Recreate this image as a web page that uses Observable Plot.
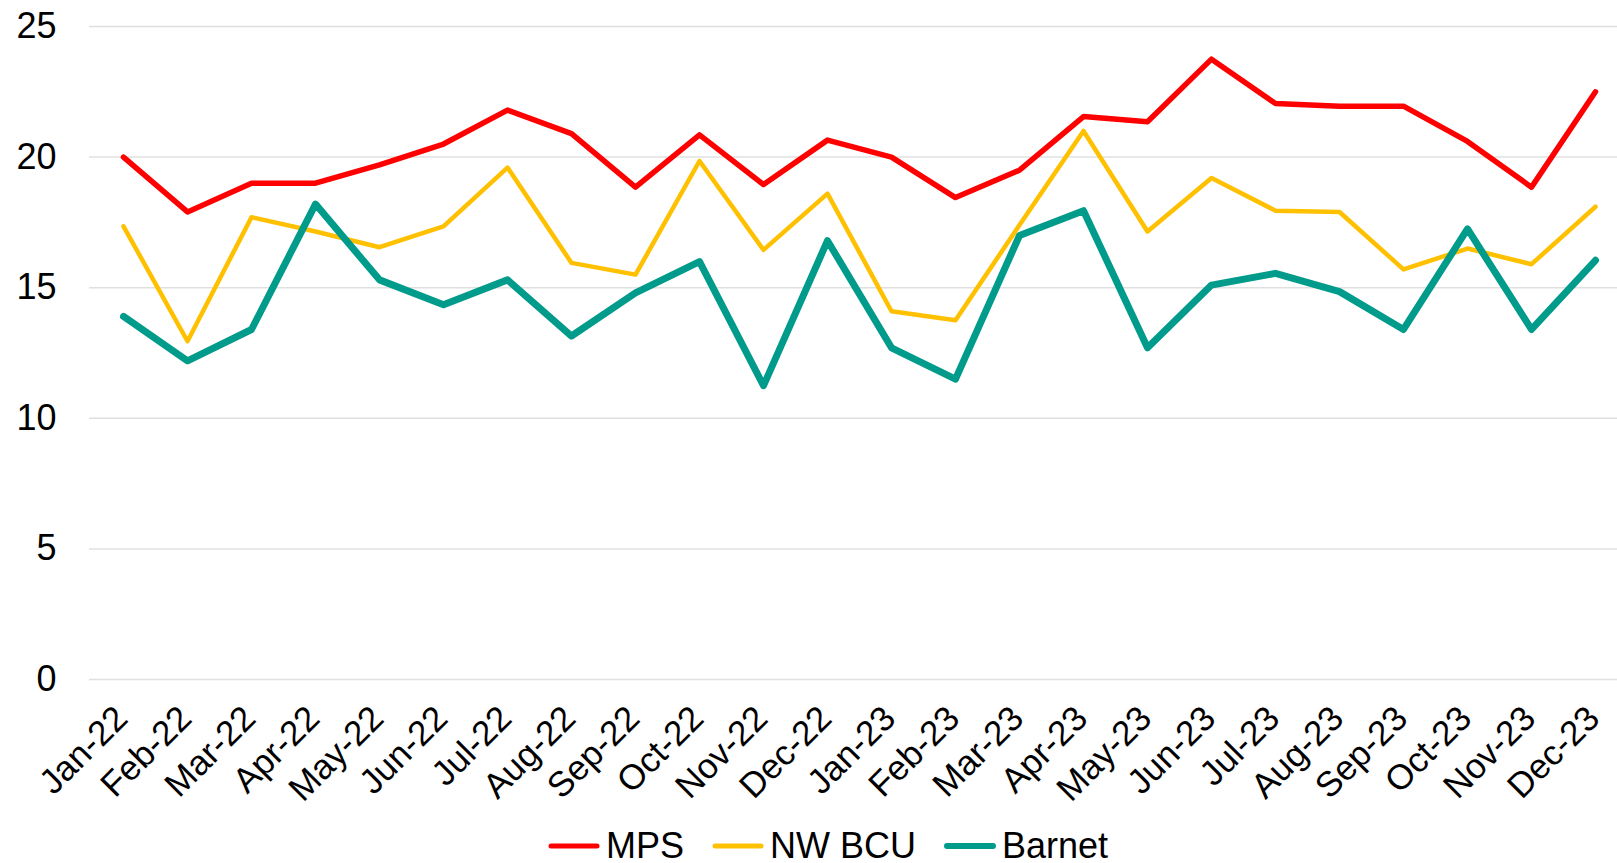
<!DOCTYPE html>
<html>
<head>
<meta charset="utf-8">
<script src="https://cdn.jsdelivr.net/npm/d3@7"></script>
<script src="https://cdn.jsdelivr.net/npm/@observablehq/plot@0.6"></script>
<style>
  html, body { margin: 0; padding: 0; background: #fff; }
  body { width: 1617px; height: 863px; position: relative; overflow: hidden; font-family: "Liberation Sans", Arial, sans-serif; }
  #legend { position: absolute; left: 548px; top: 828px; display: flex; align-items: center; font-size: 36px; line-height: 36px; color: #000; }
  .item { display: flex; align-items: center; margin-right: 28px; }
  .item svg { margin-right: 6px; }
</style>
</head>
<body>
<div id="chart"></div>
<div id="legend"></div>
<script>
const months = ["Jan-22","Feb-22","Mar-22","Apr-22","May-22","Jun-22","Jul-22","Aug-22","Sep-22","Oct-22","Nov-22","Dec-22",
                "Jan-23","Feb-23","Mar-23","Apr-23","May-23","Jun-23","Jul-23","Aug-23","Sep-23","Oct-23","Nov-23","Dec-23"];
const mps = [20.0, 17.9, 19.0, 19.0, 19.7, 20.5, 21.8, 20.9, 18.85, 20.85, 18.95, 20.65,
             20.0, 18.45, 19.5, 21.55, 21.35, 23.75, 22.05, 21.95, 21.95, 20.6, 18.85, 22.5];
const nwBcu = [17.35, 12.95, 17.7, 17.15, 16.55, 17.35, 19.6, 15.95, 15.5, 19.85, 16.45, 18.6,
               14.1, 13.75, 17.4, 21.0, 17.15, 19.2, 17.95, 17.9, 15.7, 16.5, 15.9, 18.1];
const barnet = [13.9, 12.2, 13.4, 18.2, 15.3, 14.35, 15.3, 13.15, 14.8, 16.0, 11.25, 16.8,
                12.7, 11.5, 17.0, 17.95, 12.7, 15.1, 15.55, 14.85, 13.4, 17.25, 13.4, 16.05];
const yTicks = [0, 5, 10, 15, 20, 25];
const seriesNames = ["MPS", "NW BCU", "Barnet"];
const seriesColors = ["#ff0000", "#ffc000", "#009b8a"];
const seriesWidths = [5.5, 4.5, 7];

const seriesValues = [mps, nwBcu, barnet];
const rows = seriesNames.flatMap((name, si) => months.map((m, i) => ({series: name, month: m, value: seriesValues[si][i]})));

const chart = Plot.plot({
  width: 1617,
  height: 815,
  marginLeft: 89,
  marginRight: 0,
  marginTop: 26,
  marginBottom: 136,
  style: {fontFamily: "'Liberation Sans', Arial, sans-serif", fontSize: "36px", color: "#000", background: "#fff", overflow: "visible"},
  x: {type: "point", domain: months, range: [120.7, 1596.5], padding: 0},
  y: {domain: [0, 25], ticks: yTicks},
  marks: [
    Plot.gridY(yTicks, {stroke: "#e0e0e0", strokeOpacity: 1, strokeWidth: 1.5}),
    Plot.axisY(yTicks, {tickSize: 0, tickPadding: 33, fontSize: 36, fill: "#000", label: null}),
    Plot.axisX({tickSize: 0, tickRotate: -45, tickPadding: 33, dx: -2, textAnchor: "end", lineAnchor: "middle", fontSize: 35, fill: "#000", label: null}),
    ...seriesNames.map((name, si) =>
      Plot.line(rows.filter(d => d.series === name), {
        x: "month", y: "value",
        stroke: seriesColors[si], strokeWidth: seriesWidths[si],
        strokeLinejoin: "round", strokeLinecap: "round"
      })
    )
  ]
});
document.getElementById("chart").appendChild(chart);

const legend = document.getElementById("legend");
seriesNames.forEach((name, si) => {
  const item = document.createElement("div");
  item.className = "item";
  item.innerHTML = `<svg width="52" height="10"><line x1="3" y1="5" x2="49" y2="5" stroke="${seriesColors[si]}" stroke-width="${si === 2 ? 6 : 5}" stroke-linecap="round"/></svg><span>${name}</span>`;
  legend.appendChild(item);
});
</script>
</body>
</html>
